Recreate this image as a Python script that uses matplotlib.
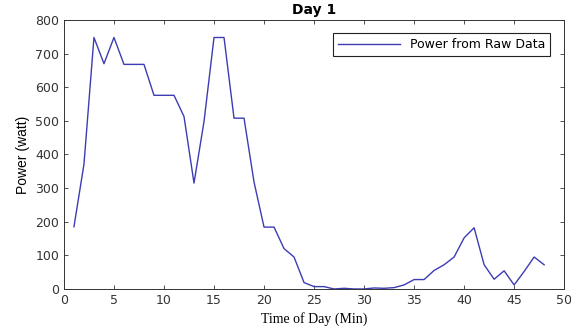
import matplotlib
matplotlib.use("Agg")
import matplotlib.pyplot as plt
import numpy as np

# Data
minutes = np.arange(1, 49)
power = [185, 371, 748, 670, 748, 668, 668, 668, 576, 576,
         576, 513, 315, 498, 748, 748, 508, 508, 318, 184,
         184, 120, 95, 19, 7, 7, 0, 2, 0, 0,
         3, 2, 4, 12, 28, 28, 55, 72, 95, 152,
         182, 72, 29, 54, 12, 52, 95, 72]

x_ticks = [0, 5, 10, 15, 20, 25, 30, 35, 40, 45, 50]
y_ticks = [0, 100, 200, 300, 400, 500, 600, 700, 800]

fig = plt.figure(figsize=(5.71, 3.28), dpi=100)
ax = fig.add_axes([0.112, 0.119, 0.876, 0.820])

ax.plot(minutes, power, color="#3c3cb4", linewidth=1.0, label="Power from Raw Data")

ax.set_xlim(0, 50)
ax.set_ylim(0, 800)
ax.set_xticks(x_ticks)
ax.set_yticks(y_ticks)
ax.tick_params(direction="in", top=True, right=True, labelsize=9, colors="#333333",
               length=3, width=0.6)
for sp in ax.spines.values():
    sp.set_color("#333333")
    sp.set_linewidth(0.7)

ax.set_title("Day 1", fontsize=10, fontweight="bold", pad=4)
ax.set_xlabel("Time of Day (Min)", family="Liberation Serif", fontsize=10)
ax.set_ylabel("Power (watt)", family="Liberation Sans", fontsize=10)

leg = ax.legend(loc="upper right", fontsize=9, fancybox=False, framealpha=1,
                edgecolor="#222222", handlelength=5, borderpad=0.4,
                bbox_to_anchor=(0.985, 0.975))
leg.get_frame().set_linewidth(0.8)

fig.savefig("out.png", dpi=100)
